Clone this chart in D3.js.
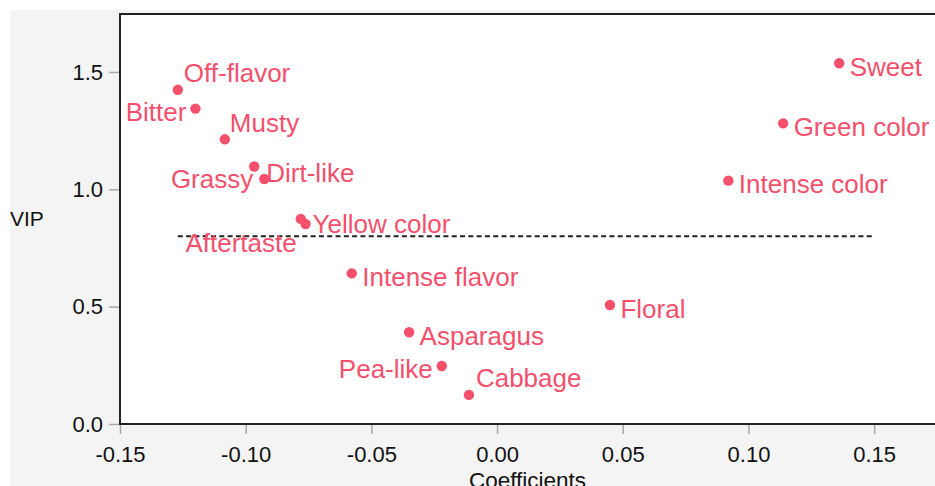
<!DOCTYPE html>
<html>
<head>
<meta charset="utf-8">
<script src="https://cdn.jsdelivr.net/npm/d3@7"></script>
<style>
  body { margin: 0; background: #fff; }
  svg { display: block; font-family: "Liberation Sans", Arial, Helvetica, sans-serif; }
</style>
</head>
<body>
<div id="chart"></div>
<script>
// attributes, PLS coefficients and VIP scores
var names = ["Off-flavor", "Bitter", "Musty", "Grassy", "Dirt-like", "Aftertaste", "Yellow color",
    "Intense flavor", "Asparagus", "Pea-like", "Cabbage", "Floral", "Sweet", "Green color", "Intense color"];
var coef = [-0.1270, -0.1200, -0.1083, -0.0966, -0.0926, -0.0781, -0.0762,
    -0.0578, -0.0350, -0.0220, -0.0112, 0.0449, 0.1361, 0.1138, 0.0920];
var vip = [1.424, 1.344, 1.213, 1.097, 1.044, 0.874, 0.852,
    0.642, 0.391, 0.247, 0.124, 0.507, 1.537, 1.281, 1.037];

var xTicks = [-0.15, -0.10, -0.05, 0.00, 0.05, 0.10, 0.15];
var yTicks = [0.0, 0.5, 1.0, 1.5];
var threshold = 0.8;
var thresholdSpan = [-0.127, 0.15];

// label placement: [dx, dy, anchor]
var place = {
    "Off-flavor": [6, -7.5, "start"],
    "Bitter": [-9, 12, "end"],
    "Musty": [5, -7.5, "start"],
    "Grassy": [-1, 21, "end"],
    "Dirt-like": [2, 3, "start"],
    "Aftertaste": [-4, 33, "end"],
    "Yellow color": [7, 8.5, "start"],
    "Pea-like": [-9, 11.7, "end"],
    "Cabbage": [7, -8.3, "start"]
};

var W = 935, H = 486;
var pL = 120, pR = 937, pT = 14, pB = 424;
var red = "#f4506c";

var svg = d3.select("#chart").append("svg")
    .attr("width", W)
    .attr("height", H);

svg.append("rect")
    .attr("x", 10).attr("y", 10)
    .attr("width", W - 10).attr("height", H - 10)
    .attr("fill", "#f4f4f4");

var x = d3.scaleLinear().domain([-0.15, 0.175]).range([pL, pR]);
var y = d3.scaleLinear().domain([0, 1.747]).range([pB, pT]);

svg.append("rect")
    .attr("x", pL).attr("y", pT)
    .attr("width", pR - pL).attr("height", pB - pT)
    .attr("fill", "#fff");

// minor ticks
var xMinor = d3.range(-0.15, 0.176, 0.025);
var yMinor = d3.range(0, 1.75, 0.25);

var gx = svg.append("g").attr("transform", "translate(0," + pB + ")");
gx.call(d3.axisBottom(x).tickValues(xMinor).tickSize(5).tickFormat(""));
gx.call(d3.axisBottom(x).tickValues(xTicks).tickSize(10).tickPadding(12)
    .tickFormat(function(d) { return d3.format(".2f")(d).replace("−", "-"); }));
gx.selectAll(".domain").remove();
gx.selectAll("line").attr("stroke", "#a8a8a8").attr("stroke-width", 1.5);
gx.selectAll("text").attr("fill", "#111").attr("font-size", 22);

var gy = svg.append("g").attr("transform", "translate(" + pL + ",0)");
gy.call(d3.axisLeft(y).tickValues(yMinor).tickSize(5).tickFormat(""));
gy.call(d3.axisLeft(y).tickValues(yTicks).tickSize(11).tickPadding(6)
    .tickFormat(d3.format(".1f")));
gy.selectAll(".domain").remove();
gy.selectAll("line").attr("stroke", "#a8a8a8").attr("stroke-width", 1.5);
gy.selectAll("text").attr("fill", "#111").attr("font-size", 22);

// frame
svg.append("line").attr("x1", pL).attr("x2", pR).attr("y1", pT).attr("y2", pT)
    .attr("stroke", "#222").attr("stroke-width", 2);
svg.append("line").attr("x1", pL).attr("x2", pL).attr("y1", pT - 1).attr("y2", pB + 1)
    .attr("stroke", "#222").attr("stroke-width", 2);
svg.append("line").attr("x1", pL).attr("x2", pR).attr("y1", pB).attr("y2", pB)
    .attr("stroke", "#222").attr("stroke-width", 2);

// VIP threshold
svg.append("line")
    .attr("x1", x(thresholdSpan[0])).attr("x2", x(thresholdSpan[1]))
    .attr("y1", y(threshold)).attr("y2", y(threshold))
    .attr("stroke", "#222").attr("stroke-width", 1.8)
    .attr("stroke-dasharray", "5,3.3");

var pts = names.map(function(n, i) { return { name: n, c: coef[i], v: vip[i] }; });

svg.append("g").selectAll("circle")
    .data(pts).join("circle")
    .attr("cx", function(d) { return x(d.c); })
    .attr("cy", function(d) { return y(d.v); })
    .attr("r", 5.2)
    .attr("fill", red);

svg.append("g").selectAll("text")
    .data(pts).join("text")
    .attr("x", function(d) { return x(d.c) + (place[d.name] ? place[d.name][0] : 10.5); })
    .attr("y", function(d) { return y(d.v) + (place[d.name] ? place[d.name][1] : 12.5); })
    .attr("text-anchor", function(d) { return place[d.name] ? place[d.name][2] : "start"; })
    .attr("font-size", 26)
    .attr("fill", red)
    .text(function(d) { return d.name; });

// axis titles
svg.append("text")
    .attr("x", 10).attr("y", (pT + pB) / 2 + 7)
    .attr("font-size", 21).attr("fill", "#111")
    .text("VIP");

svg.append("text")
    .attr("x", (pL + 935) / 2).attr("y", 488)
    .attr("text-anchor", "middle")
    .attr("font-size", 22.5).attr("fill", "#111")
    .text("Coefficients");
</script>
</body>
</html>
